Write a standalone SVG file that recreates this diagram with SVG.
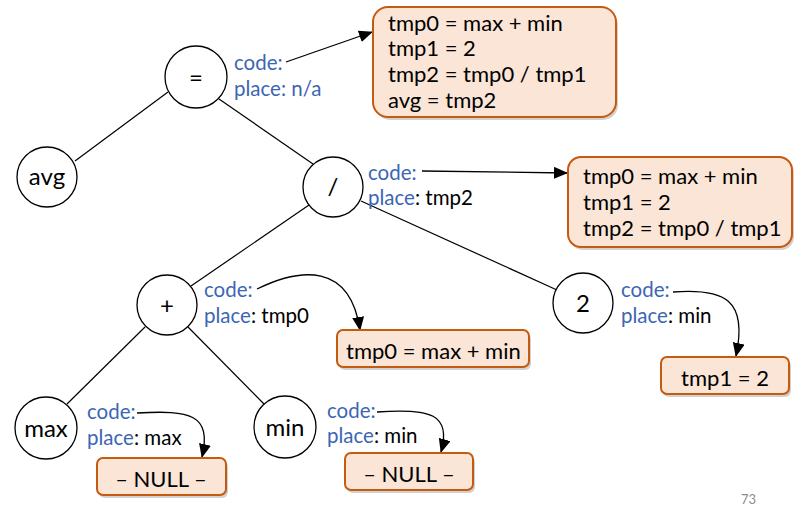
<svg xmlns="http://www.w3.org/2000/svg" width="804" height="508" viewBox="0 0 804 508">
<style>
.n{fill:#fff;stroke:#000;stroke-width:1.3}
.nt{font-family:Lato,"Liberation Sans",sans-serif;font-size:24px;fill:#000;text-anchor:middle}
.e{stroke:#000;stroke-width:1.2;fill:none}
.a{stroke:#000;stroke-width:1.3;fill:none;marker-end:url(#ah)}
.lb{font-family:Lato,"Liberation Sans",sans-serif;font-size:20.5px;fill:#3c66b4}
.bk{fill:#000}
.bx{fill:#fbe5d6;stroke:#c55a11;stroke-width:2}
.sh{fill:#000;opacity:0.18}
.bt{font-family:Lato,"Liberation Sans",sans-serif;font-size:22px;fill:#000}
</style>
<defs>
<marker id="ah" markerWidth="14" markerHeight="12" refX="13" refY="6" orient="auto" markerUnits="userSpaceOnUse">
<path d="M0,0 L14,6 L0,12 Z" fill="#000"/>
</marker>
</defs>
<g id="edges">
<line class="e" x1="168" y1="92" x2="75" y2="161"/>
<line class="e" x1="219" y1="99" x2="313" y2="164"/>
<line class="e" x1="309" y1="205" x2="191" y2="286"/>
<line class="e" x1="361" y1="201" x2="557" y2="290"/>
<line class="e" x1="145" y1="327" x2="67" y2="404"/>
<line class="e" x1="188" y1="327" x2="265" y2="405"/>
</g>
<g id="connectors">
<path class="a" d="M286,62 L372,32"/>
<path class="a" d="M422,171 L567,173"/>
<path class="a" d="M257,289 C300,268 350,262 360,330"/>
<path class="a" d="M673,292 C725,288 748,300 736,356"/>
<path class="a" d="M137,413 C190,410 212,414 202,457"/>
<path class="a" d="M377,412 C430,408 452,414 441,452"/>
</g>
<g id="n_eq"><circle class="n" cx="196" cy="77" r="31"/><text class="nt" x="196" y="86">=</text></g>
<g id="n_avg"><circle class="n" cx="47" cy="177" r="30"/><text class="nt" x="47" y="185">avg</text></g>
<g id="n_div"><circle class="n" cx="333" cy="187" r="30"/><text class="nt" x="333" y="195">/</text></g>
<g id="n_plus"><circle class="n" cx="167" cy="305" r="30"/><text class="nt" x="167" y="314">+</text></g>
<g id="n_2"><circle class="n" cx="583" cy="303" r="30"/><text class="nt" x="583" y="312">2</text></g>
<g id="n_max"><circle class="n" cx="46" cy="428" r="31"/><text class="nt" x="46" y="437">max</text></g>
<g id="n_min"><circle class="n" cx="285" cy="427" r="31"/><text class="nt" x="285" y="436">min</text></g>
<g id="l_eq"><text class="lb" x="234" y="70">code:</text><text class="lb" x="234" y="96">place: n/a</text></g>
<g id="l_div"><text class="lb" x="368" y="180">code:</text><text class="lb" x="368" y="205">place<tspan class="bk">: tmp2</tspan></text></g>
<g id="l_plus"><text class="lb" x="204" y="297">code:</text><text class="lb" x="204" y="323">place<tspan class="bk">: tmp0</tspan></text></g>
<g id="l_2"><text class="lb" x="621" y="297">code:</text><text class="lb" x="621" y="323">place<tspan class="bk">: min</tspan></text></g>
<g id="l_max"><text class="lb" x="87" y="419">code:</text><text class="lb" x="87" y="445">place<tspan class="bk">: max</tspan></text></g>
<g id="l_min"><text class="lb" x="327" y="418">code:</text><text class="lb" x="327" y="443">place<tspan class="bk">: min</tspan></text></g>
<g id="b1"><rect class="sh" x="375" y="10" width="243" height="110" rx="15"/><rect class="bx" x="373" y="7" width="243" height="110" rx="15"/>
<text class="bt" x="388" y="31">tmp0 = max + min</text><text class="bt" x="388" y="56">tmp1 = 2</text><text class="bt" x="388" y="82">tmp2 = tmp0 / tmp1</text><text class="bt" x="388" y="108">avg = tmp2</text></g>
<g id="b2"><rect class="sh" x="570" y="160" width="224" height="90" rx="13"/><rect class="bx" x="568" y="157" width="224" height="90" rx="13"/>
<text class="bt" x="583" y="184">tmp0 = max + min</text><text class="bt" x="583" y="210">tmp1 = 2</text><text class="bt" x="583" y="236">tmp2 = tmp0 / tmp1</text></g>
<g id="b3"><rect class="sh" x="339" y="333" width="192" height="37" rx="6"/><rect class="bx" x="337" y="330" width="192" height="37" rx="6"/>
<text class="bt" x="346" y="359">tmp0 = max + min</text></g>
<g id="b4"><rect class="sh" x="663" y="360" width="128" height="37" rx="6"/><rect class="bx" x="661" y="357" width="128" height="37" rx="6"/>
<text class="bt" x="725" y="386" text-anchor="middle">tmp1 = 2</text></g>
<g id="b5"><rect class="sh" x="99" y="461" width="129" height="37" rx="6"/><rect class="bx" x="97" y="458" width="129" height="37" rx="6"/>
<text class="bt" x="161" y="487" text-anchor="middle">– NULL –</text></g>
<g id="b6"><rect class="sh" x="347" y="456" width="128" height="37" rx="6"/><rect class="bx" x="345" y="453" width="128" height="37" rx="6"/>
<text class="bt" x="409" y="482" text-anchor="middle">– NULL –</text></g>
<text x="741" y="504" font-family="Lato,'Liberation Sans',sans-serif" font-size="13" fill="#8c8c8c">73</text>
</svg>
